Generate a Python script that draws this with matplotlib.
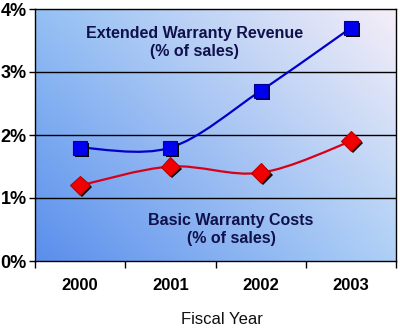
import numpy as np
import matplotlib
matplotlib.use("Agg")
import matplotlib.pyplot as plt
from matplotlib.path import Path
from matplotlib.patches import PathPatch
from matplotlib.colors import to_rgb
import matplotlib.patheffects as pe

plt.rcParams['font.family'] = ['Liberation Sans', 'DejaVu Sans']

years = ["2000", "2001", "2002", "2003"]
revenue = [1.8, 1.8, 2.7, 3.7]   # extended warranty revenue, % of sales
costs = [1.2, 1.5, 1.4, 1.9]     # basic warranty costs, % of sales
y_ticks = [0, 1, 2, 3, 4]
y_tick_labels = ["0%", "1%", "2%", "3%", "4%"]


def smooth_path(xs, ys, t=1/6):
    # Catmull-Rom style bezier through the points (like Excel's smoothed line)
    pts = np.column_stack([xs, ys]).astype(float)
    verts = [pts[0]]
    codes = [Path.MOVETO]
    n = len(pts)
    for i in range(n - 1):
        p0 = pts[max(i - 1, 0)]
        p1 = pts[i]
        p2 = pts[i + 1]
        p3 = pts[min(i + 2, n - 1)]
        c1 = p1 + (p2 - p0) * t
        c2 = p2 - (p3 - p1) * t
        verts += [c1, c2, p2]
        codes += [Path.CURVE4] * 3
    return Path(verts, codes)


fig = plt.figure(figsize=(4, 3.3), dpi=100)
ax = fig.add_axes([35 / 400, 1 - 261 / 330, 361 / 400, 252 / 330])

# gradient background
tl, tr = np.array(to_rgb("#94c0f4")), np.array(to_rgb("#f6eef8"))
bl, br = np.array(to_rgb("#5a8eec")), np.array(to_rgb("#aed0f6"))
u = np.linspace(0, 1, 200)[None, :, None]
v = np.linspace(0, 1, 200)[:, None, None]
img = (1 - v) * ((1 - u) * tl + u * tr) + v * ((1 - u) * bl + u * br)
ax.imshow(img, extent=[0, 1, 0, 1], transform=ax.transAxes,
          aspect="auto", zorder=0)

x = np.arange(len(years))
ax.set_xlim(-0.5, len(years) - 0.5)
ax.set_ylim(0, 4)

for yv in [1, 2, 3]:
    ax.axhline(yv, color="black", lw=1, zorder=1)

shadow = [pe.SimplePatchShadow(offset=(1.5, -1.5), shadow_rgbFace="black",
                               alpha=1.0), pe.Normal()]

ax.add_patch(PathPatch(smooth_path(x, revenue), fill=False,
                       edgecolor="#0000c8", lw=1.6, zorder=2))
ax.plot(x, revenue, ls="none", marker="s", ms=10, mfc="#0000f0",
        mec="#000090", mew=0.8, zorder=3, path_effects=shadow)

ax.add_patch(PathPatch(smooth_path(x, costs), fill=False,
                       edgecolor="#d80018", lw=1.6, zorder=2))
ax.plot(x, costs, ls="none", marker="D", ms=10, mfc="#f00000",
        mec="#c00000", mew=0.8, zorder=3, path_effects=shadow)

ax.text(0.442, 0.867, "Extended Warranty Revenue\n(% of sales)",
        transform=ax.transAxes, ha="center", va="center", fontsize=11.5,
        fontweight="bold", color="#10104a", linespacing=1.2)
ax.text(0.543, 0.125, "Basic Warranty Costs\n(% of sales)",
        transform=ax.transAxes, ha="center", va="center", fontsize=11.5,
        fontweight="bold", color="#10104a", linespacing=1.2)

ax.set_yticks(y_ticks)
ax.set_yticklabels(y_tick_labels, fontsize=13, fontweight="bold")
ax.set_xticks(x)
ax.set_xticklabels(years, fontsize=12, fontweight="bold")
ax.set_xticks(np.arange(-0.5, len(years)), minor=True)
ax.tick_params(axis="x", which="major", length=0, pad=12)
ax.tick_params(axis="x", which="minor", length=5, direction="out", width=1)
ax.tick_params(axis="y", length=4, direction="out", width=1, pad=2)

for s in ax.spines.values():
    s.set_color("black")
    s.set_linewidth(1)

fig.text(222 / 400, 1 - 319 / 330, "Fiscal Year", ha="center", va="center",
         fontsize=12, color="#101010")

fig.savefig("out.png", dpi=100)
